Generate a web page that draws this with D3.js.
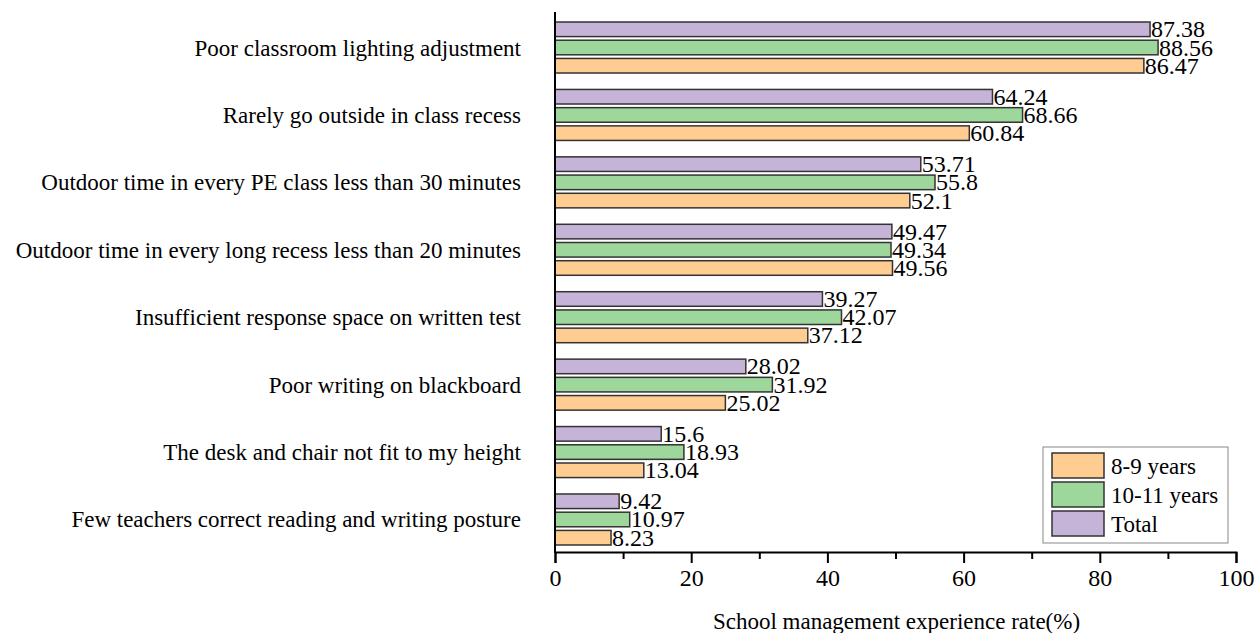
<!DOCTYPE html>
<html>
<head>
<meta charset="utf-8">
<script src="https://cdn.jsdelivr.net/npm/d3@7"></script>
<style>
  body { margin: 0; background: #fff; }
</style>
</head>
<body>
<svg id="chart"></svg>
<script>
var categories = [
  "Poor classroom lighting adjustment",
  "Rarely go outside in class recess",
  "Outdoor time in every PE class less than 30 minutes",
  "Outdoor time in every long recess less than 20 minutes",
  "Insufficient response space on written test",
  "Poor writing on blackboard",
  "The desk and chair not fit to my height",
  "Few teachers correct reading and writing posture"
]
var total = [87.38, 64.24, 53.71, 49.47, 39.27, 28.02, 15.6, 9.42]
var age1011 = [88.56, 68.66, 55.8, 49.34, 42.07, 31.92, 18.93, 10.97]
var age89 = [86.47, 60.84, 52.1, 49.56, 37.12, 25.02, 13.04, 8.23]
var seriesNames = ["Total", "10-11 years", "8-9 years"]
var legendNames = ["8-9 years", "10-11 years", "Total"]
var colors = {"8-9 years": "#ffcc91", "10-11 years": "#9dd79b", "Total": "#c6b4d8"}
var xTicks = [0, 20, 40, 60, 80, 100]

var font = "'Liberation Serif', 'DejaVu Serif', serif"
var width = 1255, height = 633
var svg = d3.select("#chart").attr("width", width).attr("height", height)
  .attr("font-family", font)

var x = d3.scaleLinear().domain([0, 100]).range([555, 1236])
var y = d3.scaleBand().domain(categories).range([13.8, 553.2])
var inner = d3.scaleBand().domain(seriesNames).range([-25.5, 25.5]).paddingInner(0.2)

var values = {"Total": total, "10-11 years": age1011, "8-9 years": age89}

// bars
categories.forEach(function(c, i) {
  var cy = y(c) + y.bandwidth() / 2
  seriesNames.forEach(function(s) {
    var v = values[s][i]
    svg.append("rect")
      .attr("x", x(0))
      .attr("y", cy + inner(s))
      .attr("width", x(v) - x(0))
      .attr("height", inner.bandwidth())
      .style("fill", colors[s])
      .style("stroke", "#333")
      .style("stroke-width", 1.5)
    svg.append("text")
      .attr("x", x(v) + 1)
      .attr("y", cy + inner(s) + inner.bandwidth() / 2 + 8)
      .attr("font-family", font)
      .attr("font-size", 24)
      .text(v)
  })
  svg.append("text")
    .attr("x", 521)
    .attr("y", cy + 8)
    .attr("text-anchor", "end")
    .attr("font-family", font)
    .attr("font-size", 23)
    .text(c)
})

// x axis
var xAxis = d3.axisBottom(x).tickValues(xTicks).tickSize(11).tickPadding(6)
var gx = svg.append("g").attr("transform", "translate(0,552)").call(xAxis)
  .attr("font-family", font).attr("font-size", 24)
gx.select(".domain").attr("stroke-width", 2)
gx.selectAll(".tick line").attr("stroke-width", 2)
var minor = d3.axisBottom(x).tickValues([10, 30, 50, 70, 90]).tickSize(7).tickFormat("")
var gm = svg.append("g").attr("transform", "translate(0,552)").call(minor)
gm.select(".domain").remove()
gm.selectAll(".tick line").attr("stroke-width", 2)

// y axis line
svg.append("line")
  .attr("x1", x(0)).attr("x2", x(0))
  .attr("y1", 12).attr("y2", 553)
  .style("stroke", "#000").style("stroke-width", 2)

svg.append("text")
  .attr("x", x(50) + 1)
  .attr("y", 629)
  .attr("text-anchor", "middle")
  .attr("font-family", font)
  .attr("font-size", 23)
  .text("School management experience rate(%)")

// legend
var lg = svg.append("g").attr("transform", "translate(1043,447)")
lg.append("rect").attr("width", 185).attr("height", 96)
  .style("fill", "#fff").style("stroke", "#888").style("stroke-width", 1)
legendNames.forEach(function(n, i) {
  lg.append("rect").attr("x", 9).attr("y", 6 + i * 29).attr("width", 52).attr("height", 25)
    .style("fill", colors[n]).style("stroke", "#333").style("stroke-width", 1.5)
  lg.append("text").attr("x", 68).attr("y", 27 + i * 29)
    .attr("font-family", font).attr("font-size", 23).text(n)
})
</script>
</body>
</html>
